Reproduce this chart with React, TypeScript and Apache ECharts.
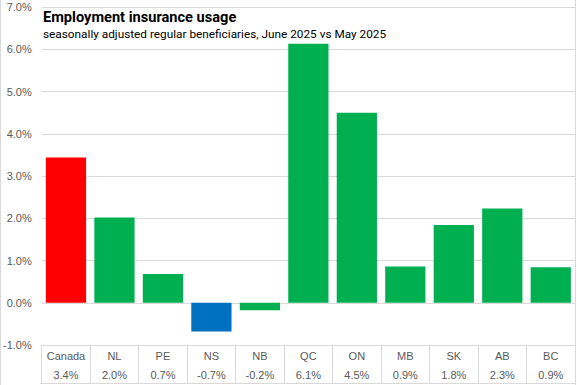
import React, { useEffect, useRef } from "react";
import * as echarts from "echarts";

const categories = ["Canada", "NL", "PE", "NS", "NB", "QC", "ON", "MB", "SK", "AB", "BC"];
const values = [3.44, 2.02, 0.68, -0.68, -0.18, 6.13, 4.5, 0.86, 1.84, 2.23, 0.84];
const tableLabels = ["3.4%", "2.0%", "0.7%", "-0.7%", "-0.2%", "6.1%", "4.5%", "0.9%", "1.8%", "2.3%", "0.9%"];
const barColors = ["#FF0000", "#00B050", "#00B050", "#0070C0", "#00B050", "#00B050", "#00B050", "#00B050", "#00B050", "#00B050", "#00B050"];

const titleText = "Employment insurance usage";
const subtitleText = "seasonally adjusted regular beneficiaries, June 2025 vs May 2025";

export default function App() {
  const ref = useRef<HTMLDivElement>(null);
  useEffect(() => {
    if (!ref.current) return;
    const chart = echarts.init(ref.current, null, { renderer: "svg" });
    const grey = "#d9d9d9";
    chart.setOption({
      animation: false,
      backgroundColor: "#ffffff",
      title: {
        text: titleText,
        subtext: subtitleText,
        left: 38,
        top: 4,
        itemGap: 4,
        textStyle: { fontFamily: "Roboto", fontWeight: "bold", fontSize: 14.6, color: "#000000" },
        subtextStyle: { fontFamily: "Roboto", fontSize: 11.8, color: "#000000" },
      },
      grid: { left: 40, right: 2, top: 7, bottom: 40, containLabel: false },
      xAxis: {
        type: "category",
        data: categories,
        axisLine: { onZero: false, lineStyle: { color: grey, width: 1 } },
        axisTick: { show: true, length: 38, interval: 0, alignWithLabel: false, lineStyle: { color: grey } },
        axisLabel: {
          interval: 0,
          margin: 1,
          formatter: (v: string, i: number) => `{a|${v}}\n{b|${tableLabels[i]}}`,
          rich: {
            a: { fontFamily: "Liberation Sans", fontSize: 11, color: "#595959", lineHeight: 19 },
            b: { fontFamily: "Liberation Sans", fontSize: 11, color: "#595959", lineHeight: 19 },
          },
        },
      },
      yAxis: {
        type: "value",
        min: -1,
        max: 7,
        interval: 1,
        axisLine: { show: false },
        axisTick: { show: false },
        splitLine: { lineStyle: { color: grey } },
        axisLabel: {
          margin: 10,
          fontFamily: "Liberation Sans",
          fontSize: 11,
          color: "#595959",
          formatter: (v: number) => v.toFixed(1) + "%",
        },
      },
      series: [
        {
          type: "bar",
          data: values.map((v, i) => ({ value: v, itemStyle: { color: barColors[i] } })),
          barCategoryGap: "17%",
        },
      ],
      graphic: [
        { type: "line", shape: { x1: 40, y1: 383.5, x2: 576, y2: 383.5 }, style: { stroke: grey, lineWidth: 1 } },
        { type: "line", shape: { x1: 0.5, y1: 0, x2: 0.5, y2: 385 }, style: { stroke: grey, lineWidth: 1 } },
        { type: "line", shape: { x1: 575.5, y1: 0, x2: 575.5, y2: 385 }, style: { stroke: grey, lineWidth: 1 } },
      ],
    });
    return () => chart.dispose();
  }, []);
  return <div ref={ref} style={{ position: "fixed", left: 0, top: 0, width: 577, height: 385 }} />;
}
